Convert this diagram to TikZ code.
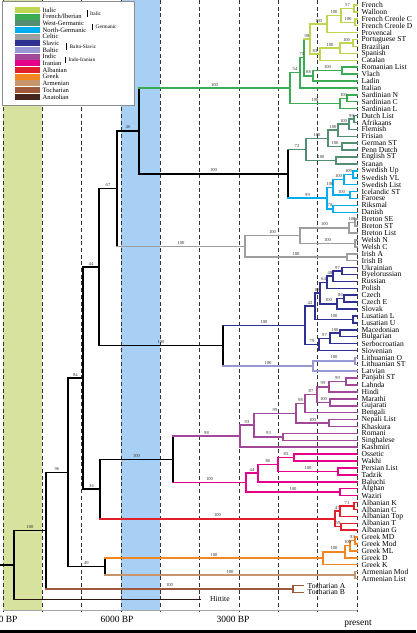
\documentclass[tikz,border=0pt]{standalone}
\usepackage{fontspec}
\setmainfont{Liberation Serif}
\usetikzlibrary{calc}

\definecolor{itc}{RGB}{190,214,80}
\definecolor{fib}{RGB}{60,172,84}
\definecolor{wger}{RGB}{84,142,114}
\definecolor{nger}{RGB}{0,174,239}
\definecolor{cel}{RGB}{158,158,158}
\definecolor{sla}{RGB}{46,49,146}
\definecolor{balt}{RGB}{152,152,212}
\definecolor{ind}{RGB}{162,72,152}
\definecolor{ira}{RGB}{228,0,138}
\definecolor{alb}{RGB}{226,32,44}
\definecolor{gre}{RGB}{242,134,32}
\definecolor{arm}{RGB}{200,148,108}
\definecolor{toch}{RGB}{158,88,60}
\definecolor{anat}{RGB}{72,36,30}
\definecolor{bandgreen}{RGB}{214,226,158}
\definecolor{bandblue}{RGB}{168,208,244}

\tikzset{
  tree/.style={line width=1.5pt, line cap=rect},
  leaf/.style={anchor=west, inner xsep=4.5pt, inner ysep=0pt, font=\fontsize{7.6}{8}\selectfont},
  blab/.style={above, inner sep=0.4pt, yshift=0.8pt, font=\fontsize{4.6}{5}\selectfont, text=black!80},
  timeline/.style={black!80, line width=0.8pt, dash pattern=on 4pt off 2.7pt},
  axisline/.style={black!35, line width=1pt},
  axlab/.style={font=\fontsize{9.5}{10}\selectfont},
  legbox/.style={fill=white, draw=black!45, line width=0.6pt},
  legtext/.style={anchor=west, inner sep=0pt, font=\fontsize{6.6}{7}\selectfont},
  leggrp/.style={anchor=west, inner sep=0pt, font=\fontsize{5.3}{6}\selectfont},
  legbar/.style={line width=0.5pt}
}

% internal node: name, x, upper child, lower child; draws its bar
\newcommand{\cladenode}[5][black]{%
  \path let \p1=(#4), \p2=(#5) in coordinate (#2) at (#3pt,{0.5*(\y1+\y2)});
  \draw[tree,#1] (#2 |- #4) -- (#2 |- #5);}

\begin{document}
\begin{tikzpicture}[x=1pt, y=-1pt]
    \useasboundingbox (0,0) rectangle (416,633);
    \fill[white] (0,0) rectangle (416,633);

    % time bands and grid
    \fill[bandgreen] (3,0) rectangle (42.3,610);
    \fill[bandblue] (121,0) rectangle (160.3,610);
    \foreach \k in {0,...,9}
        \draw[timeline] ({3+39.33*\k},0) -- ({3+39.33*\k},612);
    \draw[axisline] (3,610) -- (357,610);
    \node[axlab] (bp9) at (1,619) {9000 BP};
    \node[axlab] (bp6) at (117,619) {6000 BP};
    \node[axlab] (bp3) at (233,619) {3000 BP};
    \node[axlab] (bp0) at (358,623.5) {present};
    \fill[black] (0,629.5) rectangle (416,633);

    % leaves
    \foreach \nm [count=\i from 0] in {French, Walloon, French Creole C, French Creole D, Provencal,
        Portuguese ST, Brazilian, Spanish, Catalan, Romanian List, Vlach, Ladin, Italian,
        Sardinian N, Sardinian C, Sardinian L, Dutch List, Afrikaans, Flemish, Frisian,
        German ST, Penn Dutch, English ST, Sranan, Swedish Up, Swedish VL, Swedish List,
        Icelandic ST, Faroese, Riksmal, Danish, Breton SE, Breton ST, Breton List, Welsh N,
        Welsh C, Irish A, Irish B, Ukrainian, Byelorussian, Russian, Polish, Czech, Czech E,
        Slovak, Lusatian L, Lusatian U, Macedonian, Bulgarian, Serbocroatian, Slovenian,
        Lithuanian O, Lithuanian ST, Latvian, Panjabi ST, Lahnda, Hindi, Marathi, Gujarati,
        Bengali, Nepali List, Khaskura, Romani, Singhalese, Kashmiri, Ossetic, Wakhi,
        Persian List, Tadzik, Baluchi, Afghan, Waziri, Albanian K, Albanian C, Albanian Top,
        Albanian T, Albanian G, Greek MD, Greek Mod, Greek ML, Greek D, Greek K,
        Armenian Mod, Armenian List}
        \node[leaf] (l\i) at (357,{5+6.91*\i}) {\nm};
    \node[leaf] (l84) at (303,{5+6.91*84}) {Tocharian A};
    \node[leaf] (l85) at (303,{5+6.91*85}) {Tocharian B};
    \node[leaf, inner xsep=10pt] (l86) at (200,{5+6.91*86}) {Hittite};

    % Italic
    \cladenode[itc]{r1}{354}{l0}{l1}
    \cladenode[itc]{r2}{355}{l2}{l3}
    \cladenode[itc]{r3}{341}{r1}{r2}
    \cladenode[itc]{r4}{327}{r3}{l4}
    \cladenode[itc]{r5}{353}{l5}{l6}
    \cladenode[itc]{r6}{340}{r5}{l7}
    \cladenode[itc]{r7}{320}{r6}{l8}
    \cladenode[itc]{r8}{310}{r4}{r7}
    \cladenode[fib]{r9}{342}{l9}{l10}
    \cladenode[fib]{r10}{313}{r9}{l11}
    \cladenode[fib]{r11}{304}{r8}{r10}
    \cladenode[fib]{r12}{300}{r11}{l12}
    \cladenode[fib]{r13}{347}{l13}{l14}
    \cladenode[fib]{r14}{340}{r13}{l15}
    \cladenode[fib]{rom}{290}{r12}{r14}
    \foreach \pa/\ch/\bval in {r1/l0/{}, r1/l1/{}, r2/l2/{}, r2/l3/{}, r3/r1/57, r3/r2/100,
        r4/r3/100, r4/l4/{}, r5/l5/{}, r5/l6/{}, r6/r5/100, r6/l7/{}, r7/r6/100, r7/l8/{},
        r8/r4/100, r8/r7/83, r11/r8/98}
        \draw[tree, itc] (\pa |- \ch) -- node[blab] {\bval} (\ch);
    \foreach \pa/\ch/\bval in {r9/l9/{}, r9/l10/{}, r10/r9/100, r10/l11/{}, r11/r10/88,
        r12/r11/75, r12/l12/{}, r13/l13/{}, r13/l14/{}, r14/r13/100, r14/l15/{},
        rom/r12/54, rom/r14/100}
        \draw[tree, fib] (\pa |- \ch) -- node[blab] {\bval} (\ch);

    % Germanic
    \cladenode[wger]{g1}{354}{l16}{l17}
    \cladenode[wger]{g2}{349}{g1}{l18}
    \cladenode[wger]{g3}{338}{g2}{l19}
    \cladenode[wger]{g4}{342}{l20}{l21}
    \cladenode[wger]{g5}{328}{g3}{g4}
    \cladenode[wger]{g6}{336}{l22}{l23}
    \cladenode[wger]{wg}{306}{g5}{g6}
    \cladenode[nger]{n1}{353}{l24}{l25}
    \cladenode[nger]{n2}{344}{n1}{l26}
    \cladenode[nger]{n3}{350}{l27}{l28}
    \cladenode[nger]{n4}{333}{n2}{n3}
    \cladenode[nger]{n5}{333}{l29}{l30}
    \cladenode[nger]{ng}{327}{n4}{n5}
    \cladenode{ger}{288}{wg}{ng}
    \foreach \pa/\ch/\bval in {g1/l16/{}, g1/l17/{}, g2/g1/99, g2/l18/{}, g3/g2/100,
        g3/l19/{}, g4/l20/{}, g4/l21/{}, g5/g3/100, g5/g4/100, g6/l22/{}, g6/l23/{},
        wg/g5/100, wg/g6/100, ger/wg/72}
        \draw[tree, wger] (\pa |- \ch) -- node[blab] {\bval} (\ch);
    \foreach \pa/\ch/\bval in {n1/l24/{}, n1/l25/{}, n2/n1/100, n2/l26/{}, n3/l27/{},
        n3/l28/{}, n4/n2/100, n4/n3/100, n5/l29/{}, n5/l30/{}, ng/n4/100, ng/n5/78,
        ger/ng/99}
        \draw[tree, nger] (\pa |- \ch) -- node[blab] {\bval} (\ch);

    % Celtic
    \cladenode[cel]{c1}{355}{l31}{l32}
    \cladenode[cel]{c2}{349}{c1}{l33}
    \cladenode[cel]{c3}{355}{l34}{l35}
    \cladenode[cel]{c4}{300}{c2}{c3}
    \cladenode[cel]{c5}{347}{l36}{l37}
    \cladenode[cel]{celt}{245}{c4}{c5}
    \foreach \pa/\ch/\bval in {c1/l31/{}, c1/l32/{}, c2/c1/100, c2/l33/{}, c3/l34/{},
        c3/l35/{}, c4/c2/100, c4/c3/100, c5/l36/{}, c5/l37/{}, celt/c4/100, celt/c5/100}
        \draw[tree, cel] (\pa |- \ch) -- node[blab] {\bval} (\ch);

    % Balto-Slavic
    \cladenode[sla]{s1}{342}{l38}{l39}
    \cladenode[sla]{s2}{333}{s1}{l40}
    \cladenode[sla]{s3}{327}{s2}{l41}
    \cladenode[sla]{s4}{344}{l42}{l43}
    \cladenode[sla]{s5}{337}{s4}{l44}
    \cladenode[sla]{s6}{320}{s3}{s5}
    \cladenode[sla]{s7}{353}{l45}{l46}
    \cladenode[sla]{s8}{315}{s6}{s7}
    \cladenode[sla]{s9}{340}{l47}{l48}
    \cladenode[sla]{s10}{330}{s9}{l49}
    \cladenode[sla]{s11}{319}{s10}{l50}
    \cladenode[sla]{slav}{305}{s8}{s11}
    \cladenode[balt]{b1}{355}{l51}{l52}
    \cladenode[balt]{bal}{313}{b1}{l53}
    \cladenode{bsl}{223}{slav}{bal}
    \foreach \pa/\ch/\bval in {s1/l38/{}, s1/l39/{}, s2/s1/97, s2/l40/{}, s3/s2/48,
        s3/l41/{}, s4/l42/{}, s4/l43/{}, s5/s4/86, s5/l44/{}, s6/s3/64, s6/s5/100,
        s7/l45/{}, s7/l46/{}, s8/s6/88, s8/s7/100, s9/l47/{}, s9/l48/{}, s10/s9/100,
        s10/l49/{}, s11/s10/97, s11/l50/{}, slav/s8/42, slav/s11/79, bsl/slav/100}
        \draw[tree, sla] (\pa |- \ch) -- node[blab] {\bval} (\ch);
    \foreach \pa/\ch/\bval in {b1/l51/{}, b1/l52/{}, bal/b1/100, bal/l53/{}, bsl/bal/100}
        \draw[tree, balt] (\pa |- \ch) -- node[blab] {\bval} (\ch);

    % Indo-Iranian
    \cladenode[ind]{d1}{346}{l54}{l55}
    \cladenode[ind]{d2}{329}{d1}{l56}
    \cladenode[ind]{d3}{330}{l57}{l58}
    \cladenode[ind]{d4}{317}{d2}{d3}
    \cladenode[ind]{d5}{305}{d4}{l59}
    \cladenode[ind]{d6}{329}{l60}{l61}
    \cladenode[ind]{d7}{296}{d5}{d6}
    \cladenode[ind]{d8}{283}{l62}{l63}
    \cladenode[ind]{d9}{254}{d7}{d8}
    \cladenode[ind]{indic}{240}{d9}{l64}
    \cladenode[ira]{i1}{294}{l65}{l66}
    \cladenode[ira]{i2}{338}{l67}{l68}
    \cladenode[ira]{i3}{278}{i1}{i2}
    \cladenode[ira]{i4}{258}{i3}{l69}
    \cladenode[ira]{i5}{340}{l70}{l71}
    \cladenode[ira]{iran}{246}{i4}{i5}
    \cladenode{ii}{173}{indic}{iran}
    \foreach \pa/\ch/\bval in {d1/l54/{}, d1/l55/{}, d2/d1/99, d2/l56/{}, d3/l57/{},
        d3/l58/{}, d4/d2/99, d4/d3/100, d5/d4/87, d5/l59/{}, d6/l60/{}, d6/l61/{},
        d7/d5/98, d7/d6/100, d8/l62/{}, d8/l63/{}, d9/d7/99, d9/d8/93, indic/d9/93,
        indic/l64/{}, ii/indic/98}
        \draw[tree, ind] (\pa |- \ch) -- node[blab] {\bval} (\ch);
    \foreach \pa/\ch/\bval in {i1/l65/{}, i1/l66/{}, i2/l67/{}, i2/l68/{}, i3/i1/85,
        i3/i2/100, i4/i3/86, i4/l69/{}, i5/l70/{}, i5/l71/{}, iran/i4/44, iran/i5/100,
        ii/iran/100}
        \draw[tree, ira] (\pa |- \ch) -- node[blab] {\bval} (\ch);

    % Albanian, Greek, Armenian, Tocharian
    \cladenode[alb]{a1}{354}{l72}{l73}
    \cladenode[alb]{a2}{340}{a1}{l74}
    \cladenode[alb]{a3}{341}{l75}{l76}
    \cladenode[alb]{albn}{335}{a2}{a3}
    \cladenode[gre]{e1}{355}{l77}{l78}
    \cladenode[gre]{e2}{350}{e1}{l79}
    \cladenode[gre]{e3}{345}{e2}{l80}
    \cladenode[gre]{grk}{323}{e3}{l81}
    \cladenode[arm]{armn}{355}{l82}{l83}
    \cladenode{ga}{105}{grk}{armn}
    \cladenode[toch]{toc}{293}{l84}{l85}
    \foreach \pa/\ch/\bval in {a1/l72/{}, a1/l73/{}, a2/a1/71, a2/l74/{}, a3/l75/{},
        a3/l76/{}, albn/a2/47, albn/a3/59}
        \draw[tree, alb] (\pa |- \ch) -- node[blab] {\bval} (\ch);
    \foreach \pa/\ch/\bval in {e1/l77/{}, e1/l78/{}, e2/e1/93, e2/l79/{}, e3/e2/100,
        e3/l80/{}, grk/e3/100, grk/l81/{}, ga/grk/100}
        \draw[tree, gre] (\pa |- \ch) -- node[blab] {\bval} (\ch);
    \foreach \pa/\ch/\bval in {armn/l82/{}, armn/l83/{}, ga/armn/100}
        \draw[tree, arm] (\pa |- \ch) -- node[blab] {\bval} (\ch);
    \foreach \pa/\ch/\bval in {toc/l84/{}, toc/l85/{}}
        \draw[tree, toch] (\pa |- \ch) -- node[blab] {\bval} (\ch);

    % backbone
    \cladenode{T}{139}{rom}{ger}
    \cladenode{U}{117}{T}{celt}
    \cladenode{W}{99}{U}{bsl}
    \cladenode{V}{100}{ii}{albn}
    \cladenode{Z}{83}{W}{V}
    \cladenode{Y}{68}{Z}{ga}
    \cladenode{X}{46}{Y}{toc}
    \cladenode{R}{14}{X}{l86}
    \path let \p1=(R) in coordinate (stub) at (0pt,\y1);
    \draw[tree, fib] (T |- rom) -- node[blab] {100} (rom);
    \draw[tree, cel] (U |- celt) -- node[blab] {100} (celt);
    \draw[tree, alb] (V |- albn) -- node[blab] {100} (albn);
    \draw[tree, toch] (X |- toc) -- node[blab] {100} (toc);
    \foreach \pa/\ch/\bval in {T/ger/100, U/T/46, W/U/67, W/bsl/100, V/ii/100, Z/W/44,
        Z/V/36, Y/Z/84, Y/ga/49, X/Y/96, R/X/100}
        \draw[tree] (\pa |- \ch) -- node[blab] {\bval} (\ch);
    \draw[tree, anat!60!black] (R |- l86) -- (l86);
    \draw[tree] (stub) -- (R);

    % legend
    \draw[legbox] (2.5,1) rectangle (134,105);
    \foreach \lcol/\txt [count=\k from 0] in {itc/Italic, fib/{French/Iberian},
        wger/West-Germanic, nger/North-Germanic, cel/Celtic, sla/Slavic, balt/Baltic,
        ind/Indic, ira/Iranian, alb/Albanian, gre/Greek, arm/Armenian, toch/Tocharian,
        anat/Anatolian}
    {
        \fill[\lcol] (15,{6.7+6.67*\k+0.4}) rectangle (40,{6.7+6.67*(\k+1)-0.4});
        \node[legtext] (leg\k) at (42.5,{6.7+6.67*(\k+0.5)}) {\txt};
    }
    \draw[legbar] (87,10.4) -- (87,16.8);
    \node[leggrp] (grpita) at (90,13.5) {Italic};
    \draw[legbar] (92.7,23.7) -- (92.7,30.2);
    \node[leggrp] (grpger) at (95.5,26.9) {Germanic};
    \draw[legbar] (66,43.4) -- (66,49.8);
    \node[leggrp] (grpbs) at (69.5,46.7) {Balto-Slavic};
    \draw[legbar] (65.3,56.7) -- (65.3,63.4);
    \node[leggrp] (grpii) at (68.5,60) {Indo-Iranian};
\end{tikzpicture}
\end{document}
